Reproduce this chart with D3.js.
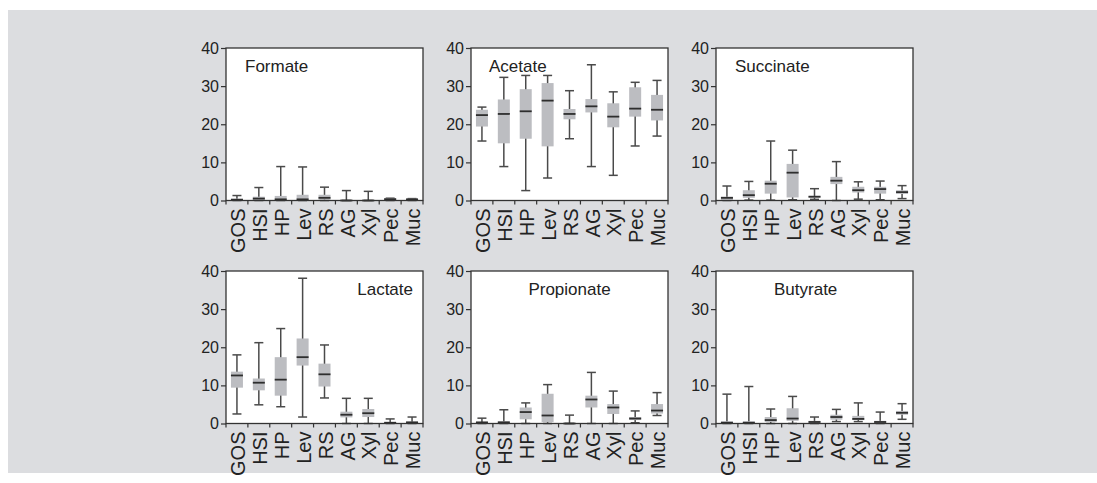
<!DOCTYPE html>
<html>
<head>
<meta charset="utf-8">
<script src="https://cdn.jsdelivr.net/npm/d3@7"></script>
<style>
  html, body { margin: 0; padding: 0; background: #fff; }
  svg { display: block; }
</style>
</head>
<body>
<div id="chart"></div>
<script>
// categories (substrates) shared by every panel
const substrates = ["GOS", "HSI", "HP", "Lev", "RS", "AG", "Xyl", "Pec", "Muc"];
const yTicks = [0, 10, 20, 30, 40];

// each row: [min, q1, median, q3, max], one per substrate
const formate = [
  [0, 0, 0.2, 0.5, 1.3], [0, 0, 0.5, 1.0, 3.4], [0, 0, 0.3, 1.2, 8.9],
  [0, 0, 0.3, 1.5, 8.8], [0, 0.2, 0.7, 1.5, 3.5], [0, 0, 0, 0, 2.6],
  [0, 0, 0, 0, 2.4], [0, 0.1, 0.35, 0.6, 0.6], [0, 0.1, 0.3, 0.5, 0.5]
];
const acetate = [
  [15.6, 19.4, 22.4, 23.8, 24.5], [8.9, 15.0, 22.7, 26.5, 32.3], [2.6, 16.2, 23.4, 29.2, 32.8],
  [5.9, 14.2, 26.2, 30.8, 32.8], [16.2, 21.3, 22.7, 24.0, 28.8], [8.9, 23.1, 24.7, 26.6, 35.6],
  [6.6, 19.2, 22.0, 25.5, 28.5], [14.3, 22.0, 24.1, 29.7, 31.0], [16.9, 21.0, 23.8, 27.7, 31.5]
];
const succinate = [
  [0, 0.1, 0.7, 1.0, 3.8], [0.1, 0.7, 1.4, 2.7, 5.0], [0.1, 1.8, 4.4, 5.2, 15.6],
  [0.2, 0.8, 7.3, 9.6, 13.2], [0.3, 0.7, 1.0, 1.2, 3.1], [0, 4.3, 5.2, 6.2, 10.2],
  [0.35, 2.1, 2.7, 3.6, 4.9], [0.2, 1.8, 3.0, 3.6, 5.1], [0.5, 1.7, 2.2, 2.7, 3.9]
];
const lactate = [
  [2.5, 9.4, 12.6, 13.6, 18.0], [4.9, 8.7, 10.7, 11.8, 21.2], [4.4, 7.3, 11.5, 17.4, 24.9],
  [1.7, 15.2, 17.4, 22.3, 38.1], [6.7, 9.7, 12.9, 15.7, 20.6], [0, 1.6, 2.3, 3.1, 6.6],
  [0, 1.7, 2.7, 3.8, 6.6], [0, 0, 0.2, 0.3, 1.2], [0, 0, 0.3, 0.5, 1.7]
];
const propionate = [
  [0, 0, 0.3, 0.4, 1.4], [0, 0, 0.3, 0.6, 3.6], [0, 1.1, 3.0, 4.2, 5.4],
  [0, 0.35, 2.1, 7.8, 10.2], [0, 0, 0, 0, 2.2], [0, 4.2, 6.3, 7.3, 13.4],
  [0, 2.5, 4.2, 5.1, 8.5], [0.2, 0.9, 1.3, 1.7, 3.3], [2.1, 2.6, 3.4, 5.1, 8.1]
];
const butyrate = [
  [0, 0, 0.2, 0.6, 7.7], [0, 0, 0.2, 0.6, 9.7], [0, 0.4, 0.9, 1.7, 3.8],
  [0, 0.7, 1.3, 4.0, 7.1], [0, 0.2, 0.4, 0.7, 1.7], [0.5, 1.0, 1.7, 2.3, 3.7],
  [0.5, 0.9, 1.2, 2.0, 5.4], [0, 0.1, 0.4, 0.7, 3.0], [1.1, 2.3, 2.8, 3.3, 5.2]
];

const panels = [
  { name: "Formate",    data: formate,    col: 0, row: 0, align: "start",  dx: 19 },
  { name: "Acetate",    data: acetate,    col: 1, row: 0, align: "start",  dx: 18 },
  { name: "Succinate",  data: succinate,  col: 2, row: 0, align: "start",  dx: 19 },
  { name: "Lactate",    data: lactate,    col: 0, row: 1, align: "end",    dx: -10 },
  { name: "Propionate", data: propionate, col: 1, row: 1, align: "middle", dx: 0 },
  { name: "Butyrate",   data: butyrate,   col: 2, row: 1, align: "start",  dx: 58 }
];

const W = 1097, H = 483;
const panelLeft = [226, 471, 716];
const panelTop = [48, 271];
const pw = 197, ph = 152.5;

const svg = d3.select("#chart").append("svg")
  .attr("width", W).attr("height", H);

// gray card behind the figure
svg.append("rect")
  .attr("x", 8).attr("y", 10)
  .attr("width", W - 8).attr("height", 463)
  .attr("fill", "#dcdde0");

const x = d3.scaleBand().domain(substrates).range([0, pw]);
const y = d3.scaleLinear().domain([0, 40]).range([ph, 0]);

const boxW = 12, capW = 9;

panels.forEach(p => {
  const g = svg.append("g")
    .attr("transform", `translate(${panelLeft[p.col]},${panelTop[p.row]})`);

  g.append("rect")
    .attr("width", pw).attr("height", ph)
    .attr("fill", "#fff");

  // boxes
  const item = g.selectAll("g.item")
    .data(p.data.map((d, i) => ({ cat: substrates[i], v: d })))
    .join("g")
    .attr("class", "item")
    .attr("transform", d => `translate(${x(d.cat) + x.bandwidth() / 2},0)`);

  item.append("line")
    .attr("y1", d => y(d.v[0])).attr("y2", d => y(d.v[4]))
    .attr("stroke", "#4a4a4a").attr("stroke-width", 1.5);

  item.selectAll("line.cap")
    .data(d => [d.v[0], d.v[4]])
    .join("line")
    .attr("class", "cap")
    .attr("x1", -capW / 2).attr("x2", capW / 2)
    .attr("y1", v => y(v)).attr("y2", v => y(v))
    .attr("stroke", "#4a4a4a").attr("stroke-width", 1.5);

  item.append("rect")
    .attr("x", -boxW / 2)
    .attr("y", d => y(d.v[3]))
    .attr("width", boxW)
    .attr("height", d => y(d.v[1]) - y(d.v[3]))
    .attr("fill", "#bcbdc1");

  item.append("line")
    .attr("x1", -boxW / 2).attr("x2", boxW / 2)
    .attr("y1", d => y(d.v[2])).attr("y2", d => y(d.v[2]))
    .attr("stroke", "#2e2e2e").attr("stroke-width", 1.8);

  // frame
  g.append("rect")
    .attr("width", pw).attr("height", ph)
    .attr("fill", "none")
    .attr("stroke", "#333").attr("stroke-width", 1.3);

  // y axis
  const yAxis = g.append("g")
    .call(d3.axisLeft(y).tickValues(yTicks).tickSize(5).tickPadding(2));
  yAxis.select(".domain").remove();
  yAxis.selectAll("line").attr("stroke", "#333").attr("stroke-width", 1.2);
  yAxis.selectAll("text")
    .attr("font-family", "'Liberation Sans', Arial, sans-serif")
    .attr("font-size", 16).attr("fill", "#222");

  // x axis: ticks at band edges, labels rotated
  const edges = substrates.map(s => x(s)).concat([pw]);
  g.append("g").selectAll("line")
    .data(edges)
    .join("line")
    .attr("x1", d => d).attr("x2", d => d)
    .attr("y1", ph).attr("y2", ph + 4)
    .attr("stroke", "#333").attr("stroke-width", 1.2);

  g.append("g").selectAll("text")
    .data(substrates)
    .join("text")
    .attr("transform", d => `translate(${x(d) + x.bandwidth() / 2 + 1},${ph + 8}) rotate(-90)`)
    .attr("text-anchor", "end")
    .attr("dy", "0.36em")
    .attr("font-family", "'Liberation Sans Narrow', 'Arial Narrow', sans-serif")
    .attr("font-size", 20)
    .attr("fill", "#222")
    .text(d => d);

  // panel title
  const tx = p.align === "start" ? p.dx : p.align === "end" ? pw + p.dx : pw / 2;
  g.append("text")
    .attr("x", tx).attr("y", 24)
    .attr("text-anchor", p.align)
    .attr("font-family", "'Liberation Sans', Arial, sans-serif")
    .attr("font-size", 17)
    .attr("fill", "#222")
    .text(p.name);
});
</script>
</body>
</html>
